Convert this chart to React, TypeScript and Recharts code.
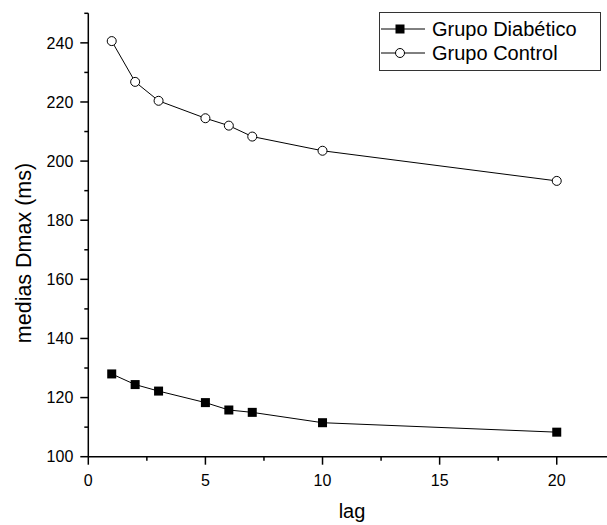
import React from 'react';
import { LineChart, Line, XAxis, YAxis } from 'recharts';

const lags = [1, 2, 3, 5, 6, 7, 10, 20];
const diabetico = [128.0, 124.4, 122.2, 118.3, 115.8, 115.0, 111.5, 108.3];
const control = [240.6, 226.8, 220.4, 214.5, 212.0, 208.3, 203.5, 193.3];
const xTicks = [0, 2.5, 5, 7.5, 10, 12.5, 15, 17.5, 20, 22.5];
const yTicks = [100, 110, 120, 130, 140, 150, 160, 170, 180, 190, 200, 210, 220, 230, 240, 250];
const seriesNames = ['Grupo Diabético', 'Grupo Control'];

const data = lags.map((lag, i) => ({ lag, diab: diabetico[i], ctrl: control[i] }));

const FONT = '"Liberation Sans", Arial, sans-serif';

const XTick = (props: any) => {
  const { x, y, payload } = props;
  const major = payload.value % 5 === 0;
  return (
    <g>
      <line x1={x} y1={y} x2={x} y2={y + (major ? 8 : 4)} stroke="#000" strokeWidth={1.5} />
      {major && (
        <text x={x} y={y + 29.5} textAnchor="middle" fontSize={16} fontFamily={FONT} fill="#000">
          {payload.value}
        </text>
      )}
    </g>
  );
};

const YTick = (props: any) => {
  const { x, y, payload } = props;
  const major = payload.value % 20 === 0;
  return (
    <g>
      <line x1={x} y1={y} x2={x - (major ? 8 : 4)} y2={y} stroke="#000" strokeWidth={1.5} />
      {major && (
        <text x={x - 15} y={y + 5.7} textAnchor="end" fontSize={16} fontFamily={FONT} fill="#000">
          {payload.value}
        </text>
      )}
    </g>
  );
};

const SquareDot = (p: any) => (
  <rect key={`s-${p.index}`} x={p.cx - 4.5} y={p.cy - 4.5} width={9} height={9} fill="#000" />
);
const CircleDot = (p: any) => (
  <circle key={`c-${p.index}`} cx={p.cx} cy={p.cy} r={4.5} fill="#fff" stroke="#000" strokeWidth={1} />
);

export default function App() {
  return (
    <div style={{ position: 'absolute', left: 0, top: 0, width: 607, height: 525, overflow: 'hidden', background: '#fff' }}>
      <LineChart
        width={616}
        height={525}
        data={data}
        margin={{ top: 13.3, right: 0.7, bottom: 0, left: 0 }}
      >
        <XAxis
          type="number"
          dataKey="lag"
          domain={[0, 22.5]}
          ticks={xTicks}
          interval={0}
          height={68.3}
          tickSize={0}
          tickMargin={0}
          tickLine={false}
          tick={<XTick />}
          axisLine={{ stroke: '#000', strokeWidth: 1.5 }}
        />
        <YAxis
          type="number"
          domain={[100, 250]}
          ticks={yTicks}
          interval={0}
          width={88.3}
          tickSize={0}
          tickMargin={0}
          tickLine={false}
          tick={<YTick />}
          axisLine={{ stroke: '#000', strokeWidth: 1.5 }}
        />
        <Line
          type="linear"
          dataKey="diab"
          name={seriesNames[0]}
          stroke="#000"
          strokeWidth={1}
          dot={SquareDot}
          isAnimationActive={false}
        />
        <Line
          type="linear"
          dataKey="ctrl"
          name={seriesNames[1]}
          stroke="#000"
          strokeWidth={1}
          dot={CircleDot}
          isAnimationActive={false}
        />
      </LineChart>
      <svg width={607} height={525} style={{ position: 'absolute', left: 0, top: 0, pointerEvents: 'none' }}>
        <g transform="translate(379, 12)">
          <rect x={0.5} y={0.5} width={221} height={58} fill="#fff" stroke="#333" strokeWidth={1} />
          {seriesNames.map((name, i) => {
            const cy = 17 + i * 24;
            return (
              <g key={name}>
                <line x1={2} y1={cy} x2={46} y2={cy} stroke="#000" strokeWidth={1} />
                {i === 0 ? (
                  <rect x={21 - 4.5} y={cy - 4.5} width={9} height={9} fill="#000" />
                ) : (
                  <circle cx={21} cy={cy} r={4.5} fill="#fff" stroke="#000" strokeWidth={1} />
                )}
                <text x={53} y={cy + 6.5} fontSize={20} fontFamily={FONT} fill="#000">
                  {name}
                </text>
              </g>
            );
          })}
        </g>
        <text x={352} y={518} textAnchor="middle" fontSize={20} fontFamily={FONT} fill="#000">lag</text>
        <text
          x={30.5}
          y={253}
          textAnchor="middle"
          fontSize={21.5}
          fontFamily={FONT}
          fill="#000"
          transform="rotate(-90, 30.5, 253)"
        >
          medias Dmax (ms)
        </text>
      </svg>
    </div>
  );
}
